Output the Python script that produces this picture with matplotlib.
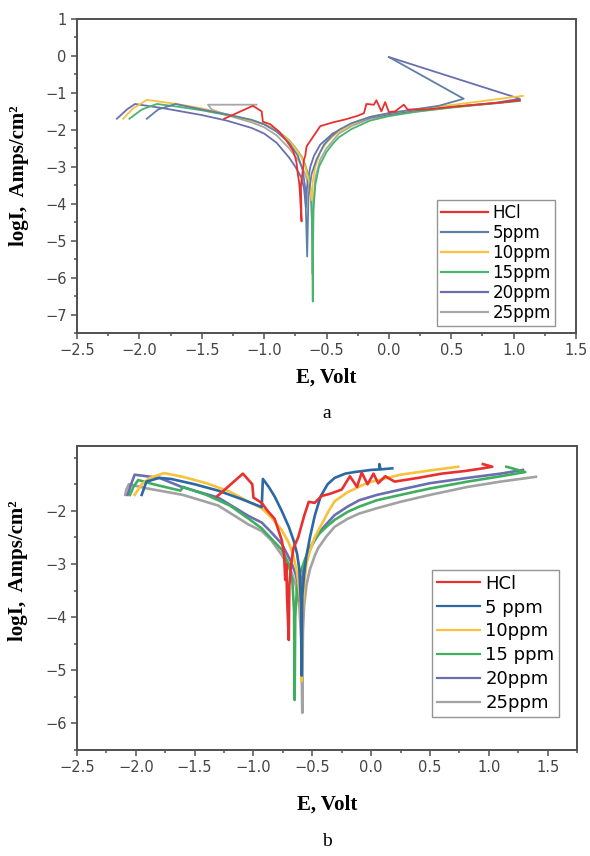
import matplotlib
matplotlib.use("Agg")
import matplotlib.pyplot as plt
from matplotlib.ticker import MultipleLocator

labels_a = ["HCl", "5ppm", "10ppm", "15ppm", "20ppm", "25ppm"]
labels_b = ["HCl", "5 ppm", "10ppm", "15 ppm", "20ppm", "25ppm"]
colors_a = ["#e8312f", "#5f7fa6", "#f7c23c", "#4cb36e", "#6b6eb0", "#a8a8a8"]
colors_b = ["#e8312f", "#2c68a4", "#f7c23c", "#3fae5f", "#6b6eb0", "#a2a2a2"]

# ---- panel a: E (V) and logI for each solution ----
E_a_hcl = [-1.32, -1.09, -1.02, -1.01, -0.95, -0.88, -0.82, -0.77, -0.75, -0.74, -0.73, -0.72, -0.715, -0.71,
           -0.70, -0.705, -0.69, -0.68, -0.67, -0.66, -0.60, -0.55, -0.50, -0.45, -0.35, -0.25, -0.20, -0.18,
           -0.12, -0.10, -0.06, -0.03, 0.0, 0.05, 0.12, 0.15, 0.30, 0.50, 0.70, 0.90, 1.05]
I_a_hcl = [-1.70, -1.35, -1.50, -1.78, -1.85, -2.05, -2.30, -2.55, -2.75, -2.90, -3.20, -3.40, -3.60, -3.90,
           -4.48, -3.50, -3.10, -2.80, -2.70, -2.45, -2.15, -1.90, -1.85, -1.80, -1.72, -1.62, -1.55, -1.30,
           -1.32, -1.20, -1.50, -1.25, -1.52, -1.50, -1.32, -1.45, -1.45, -1.38, -1.32, -1.26, -1.20]

E_a_5 = [-1.94, -1.85, -1.71, -1.50, -1.30, -1.10, -1.00, -0.90, -0.80, -0.73, -0.69, -0.67, -0.655, -0.645,
         -0.62, -0.58, -0.52, -0.46, -0.40, -0.30, -0.15, 0.0, 0.20, 0.40, 0.60, 0.0]
I_a_5 = [-1.70, -1.45, -1.30, -1.45, -1.58, -1.73, -1.85, -2.05, -2.35, -2.70, -3.10, -3.60, -5.43, -3.80,
         -3.20, -2.80, -2.40, -2.17, -2.00, -1.82, -1.65, -1.55, -1.45, -1.35, -1.16, -0.03]

E_a_10 = [-2.13, -2.05, -1.94, -1.70, -1.50, -1.30, -1.10, -1.00, -0.90, -0.80, -0.75, -0.70, -0.67, -0.64,
          -0.62, -0.61, -0.59, -0.55, -0.50, -0.45, -0.40, -0.30, -0.15, 0.0, 0.20, 0.50, 0.80, 1.075]
I_a_10 = [-1.70, -1.42, -1.19, -1.30, -1.42, -1.58, -1.75, -1.85, -2.02, -2.30, -2.50, -2.75, -3.00, -3.40,
          -3.90, -3.40, -3.00, -2.60, -2.35, -2.18, -2.05, -1.85, -1.65, -1.55, -1.45, -1.33, -1.20, -1.08]

E_a_15 = [-2.08, -1.98, -1.86, -1.70, -1.50, -1.30, -1.10, -1.00, -0.90, -0.80, -0.75, -0.70, -0.67, -0.64,
          -0.62, -0.61, -0.605, -0.59, -0.56, -0.50, -0.45, -0.40, -0.30, -0.15, 0.0, 0.20, 0.50, 0.80, 1.05]
I_a_15 = [-1.70, -1.45, -1.30, -1.37, -1.47, -1.60, -1.75, -1.85, -2.00, -2.28, -2.48, -2.72, -2.95, -3.30,
          -3.80, -6.65, -4.20, -3.50, -3.00, -2.60, -2.38, -2.20, -1.98, -1.75, -1.63, -1.52, -1.40, -1.30, -1.22]

E_a_20 = [-2.18, -2.10, -2.035, -1.80, -1.50, -1.30, -1.10, -1.00, -0.90, -0.80, -0.75, -0.70, -0.68, -0.665,
          -0.655, -0.63, -0.60, -0.55, -0.45, -0.30, -0.15, 0.0, 0.30, 0.60, 0.85, 1.05, 0.0]
I_a_20 = [-1.70, -1.45, -1.30, -1.42, -1.60, -1.75, -1.95, -2.10, -2.35, -2.75, -3.00, -3.30, -3.60, -4.10,
          -3.50, -3.00, -2.70, -2.40, -2.10, -1.85, -1.67, -1.58, -1.45, -1.35, -1.27, -1.16, -0.03]

E_a_25 = [-1.06, -1.45, -1.42, -1.30, -1.10, -1.00, -0.90, -0.80, -0.72, -0.67, -0.63, -0.615, -0.612, -0.605,
          -0.59, -0.55, -0.50, -0.40, -0.30, -0.15, 0.0, 0.30, 0.60, 0.85, 1.05]
I_a_25 = [-1.32, -1.32, -1.45, -1.60, -1.80, -1.93, -2.15, -2.50, -2.85, -3.20, -3.70, -4.50, -5.90, -4.00,
          -3.30, -2.80, -2.50, -2.10, -1.90, -1.70, -1.60, -1.47, -1.35, -1.28, -1.20]

# ---- panel b ----
E_b_hcl = [-1.31, -1.09, -1.01, -1.00, -0.93, -0.88, -0.82, -0.76, -0.74, -0.73, -0.72, -0.715, -0.70, -0.695,
           -0.68, -0.66, -0.62, -0.57, -0.53, -0.48, -0.42, -0.35, -0.25, -0.18, -0.12, -0.08, -0.03, 0.02,
           0.06, 0.12, 0.20, 0.40, 0.60, 0.80, 0.95, 1.03, 0.95]
I_b_hcl = [-1.73, -1.30, -1.50, -1.75, -1.85, -2.00, -2.15, -2.55, -2.80, -3.30, -3.00, -3.60, -4.43, -3.40,
           -3.00, -2.70, -2.50, -2.10, -1.83, -1.85, -1.72, -1.68, -1.60, -1.35, -1.55, -1.28, -1.50, -1.30,
           -1.48, -1.35, -1.45, -1.38, -1.30, -1.25, -1.20, -1.17, -1.12]

E_b_5 = [-1.95, -1.91, -1.80, -1.70, -1.50, -1.30, -1.10, -0.93, -0.92, -0.87, -0.82, -0.76, -0.70, -0.66,
         -0.63, -0.61, -0.595, -0.59, -0.585, -0.57, -0.55, -0.52, -0.48, -0.43, -0.37, -0.31, -0.22, -0.14,
         0.0, 0.07, 0.07, 0.08, 0.18]
I_b_5 = [-1.70, -1.45, -1.38, -1.40, -1.50, -1.62, -1.78, -1.93, -1.40, -1.55, -1.73, -2.00, -2.30, -2.55,
         -2.80, -3.10, -3.80, -5.10, -3.60, -3.20, -2.85, -2.50, -2.10, -1.73, -1.50, -1.38, -1.30, -1.27,
         -1.23, -1.22, -1.12, -1.22, -1.20]

E_b_10 = [-2.01, -1.95, -1.88, -1.76, -1.60, -1.40, -1.20, -1.04, -0.93, -0.85, -0.76, -0.70, -0.66, -0.63,
          -0.61, -0.595, -0.59, -0.585, -0.57, -0.55, -0.52, -0.48, -0.42, -0.36, -0.31, -0.20, -0.03, 0.25,
          0.50, 0.74]
I_b_10 = [-1.70, -1.50, -1.38, -1.29, -1.36, -1.48, -1.64, -1.83, -1.95, -2.12, -2.36, -2.60, -2.85, -3.15,
          -3.50, -4.00, -5.20, -4.00, -3.40, -3.00, -2.75, -2.50, -2.25, -2.00, -1.82, -1.65, -1.47, -1.32,
          -1.24, -1.17]

E_b_15 = [-2.05, -2.02, -1.98, -1.85, -1.62, -1.60, -1.40, -1.20, -1.04, -0.93, -0.85, -0.76, -0.70, -0.67,
          -0.655, -0.65, -0.645, -0.63, -0.60, -0.56, -0.53, -0.49, -0.45, -0.38, -0.31, -0.20, -0.10, 0.05,
          0.25, 0.50, 0.82, 1.10, 1.31, 1.20, 1.15]
I_b_15 = [-1.70, -1.55, -1.42, -1.50, -1.62, -1.55, -1.70, -1.90, -2.15, -2.33, -2.52, -2.73, -3.00, -3.30,
          -3.90, -5.56, -4.00, -3.45, -3.15, -2.90, -2.74, -2.58, -2.45, -2.30, -2.17, -2.02, -1.92, -1.80,
          -1.70, -1.58, -1.45, -1.35, -1.27, -1.20, -1.17]

E_b_20 = [-2.07, -2.04, -2.01, -1.80, -1.61, -1.30, -1.04, -0.93, -0.85, -0.76, -0.68, -0.64, -0.62, -0.61,
          -0.60, -0.59, -0.57, -0.54, -0.51, -0.47, -0.42, -0.36, -0.31, -0.20, -0.10, 0.05, 0.25, 0.50, 0.82,
          1.10, 1.29]
I_b_20 = [-1.70, -1.50, -1.32, -1.38, -1.55, -1.75, -2.10, -2.22, -2.40, -2.62, -2.96, -3.20, -3.40, -3.70,
          -3.50, -3.30, -3.05, -2.85, -2.68, -2.52, -2.35, -2.20, -2.08, -1.92, -1.80, -1.70, -1.60, -1.48, -1.38,
          -1.30, -1.23]

E_b_25 = [-2.09, -2.08, -2.06, -1.90, -1.60, -1.30, -1.04, -0.93, -0.85, -0.76, -0.68, -0.64, -0.61, -0.595,
          -0.585, -0.58, -0.57, -0.55, -0.52, -0.48, -0.45, -0.38, -0.31, -0.20, -0.10, 0.05, 0.25, 0.50, 0.82,
          1.10, 1.40]
I_b_25 = [-1.70, -1.60, -1.50, -1.58, -1.70, -1.90, -2.26, -2.38, -2.55, -2.83, -3.14, -3.40, -3.80, -4.40,
          -5.80, -4.30, -3.80, -3.40, -3.10, -2.85, -2.70, -2.48, -2.30, -2.15, -2.05, -1.95, -1.83, -1.70,
          -1.55, -1.45, -1.36]

series_a = [(E_a_hcl, I_a_hcl), (E_a_5, I_a_5), (E_a_10, I_a_10),
            (E_a_15, I_a_15), (E_a_20, I_a_20), (E_a_25, I_a_25)]
series_b = [(E_b_hcl, I_b_hcl), (E_b_5, I_b_5), (E_b_10, I_b_10),
            (E_b_15, I_b_15), (E_b_20, I_b_20), (E_b_25, I_b_25)]

zorders = [7, 6, 5, 4, 3, 2]
serif = ["Liberation Serif", "DejaVu Serif"]
axcol = "#505050"

fig = plt.figure(figsize=(5.9, 8.56), dpi=100)
ax1 = fig.add_axes([77 / 590, 1 - 333 / 856, 499 / 590, 314 / 856])
ax2 = fig.add_axes([77 / 590, 1 - 750 / 856, 500 / 590, 304 / 856])


def style(ax, lw, labels, colors, series, legsize, anchor, ylab_y, xlab_y, lspace, hlen):
    for (E, I), lab, c, z in zip(series, labels, colors, zorders):
        ax.plot(E, I, color=c, lw=lw, label=lab, zorder=z, solid_joinstyle="round")
    for sp in ax.spines.values():
        sp.set_color(axcol)
        sp.set_linewidth(1.4)
    ax.tick_params(which="both", direction="out", colors=axcol, labelcolor="#444444",
                   labelsize=10.5, width=1.1)
    ax.tick_params(which="major", length=4)
    ax.tick_params(which="minor", length=2.5)
    ax.xaxis.set_major_locator(MultipleLocator(0.5))
    ax.xaxis.set_minor_locator(MultipleLocator(0.25))
    ax.yaxis.set_major_locator(MultipleLocator(1))
    ax.yaxis.set_minor_locator(MultipleLocator(0.5))
    ax.set_xlabel("E, Volt", family=serif, fontweight="bold", fontsize=15, va="center")
    ax.set_ylabel("logI,  Amps/cm²", family=serif, fontweight="bold", fontsize=15, va="center")
    ax.yaxis.set_label_coords(-0.117, ylab_y)
    ax.xaxis.set_label_coords(0.5, xlab_y)
    leg = ax.legend(loc="lower right", bbox_to_anchor=anchor, borderaxespad=0, fontsize=legsize,
                    frameon=True, fancybox=False, edgecolor="#7a7a7a", handlelength=hlen,
                    handletextpad=0.3, labelspacing=lspace, borderpad=0.25)
    leg.get_frame().set_linewidth(1.0)
    for line in leg.get_lines():
        line.set_linewidth(1.6)


style(ax1, 1.3, labels_a, colors_a, series_a, 12, (0.958, 0.022), 0.5, -0.143, 0.12, 2.8)
ax1.set_xlim(-2.5, 1.5)
ax1.set_ylim(-7.5, 1)

style(ax2, 1.9, labels_b, colors_b, series_b, 13, (0.964, 0.109), 0.59, -0.181, 0.33, 2.4)
ax2.set_xlim(-2.5, 1.75)
ax2.set_ylim(-6.5, -0.78)
ax2.set_yticks([-6, -5, -4, -3, -2])

fig.text(327 / 590, 1 - 414 / 856, "a", family=serif, fontsize=14, ha="center", va="center")
fig.text(327 / 590, 1 - 841 / 856, "b", family=serif, fontsize=14, ha="center", va="center")

plt.savefig("out.png", dpi=100)
